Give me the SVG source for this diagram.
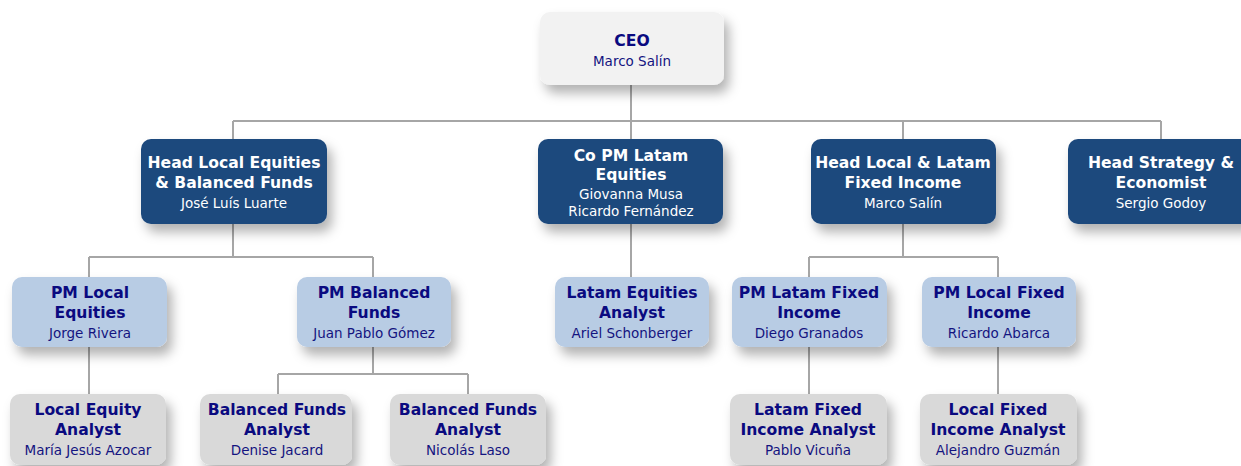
<svg xmlns="http://www.w3.org/2000/svg" width="1241" height="466" viewBox="0 0 1241 466">
<style>
.t{font-family:"DejaVu Sans",Verdana,sans-serif;font-weight:bold;font-size:15.6px;text-anchor:middle}
.n{font-family:"DejaVu Sans",Verdana,sans-serif;font-size:13.5px;text-anchor:middle}
.dk rect{fill:#1f497d}
.dk text{fill:#ffffff}
.md rect{fill:#b8cce4}
.lt rect{fill:#d9d9d9}
.ce rect{fill:#f2f2f2}
.md .t,.lt .t,.ce .t{fill:#0a0a80}
.md .n,.lt .n,.ce .n{fill:#141480}
.c{fill:none;stroke:#a6a6a6;stroke-width:2}
</style>
<defs>
<filter id="sh" x="-20%" y="-20%" width="150%" height="170%">
<feDropShadow dx="5" dy="8" stdDeviation="6" flood-color="#000" flood-opacity="0.3"/>
</filter>
</defs>
<rect width="1241" height="466" fill="#ffffff"/>
<g id="connectors" class="c">
<path d="M631 85V121M233 121H1161M233 121V139M631 121V139M903 121V139M1161 121V139"/>
<path d="M233 224V257M89 257H373M89 257V277M373 257V277"/>
<path d="M631 224V277"/>
<path d="M903 224V257M809 257H998M809 257V277M998 257V277"/>
<path d="M89 347V394"/>
<path d="M373 347V374M278 374H468M278 374V394M468 374V394"/>
<path d="M809 347V394M998 347V394"/>
</g>
<g id="ceo" class="ce"><rect x="540" y="12" width="184" height="73" rx="10" filter="url(#sh)"/>
<text class="t" x="632" y="46">CEO</text><text class="n" x="632" y="66">Marco Salín</text></g>
<g id="head-equities" class="dk"><rect x="141" y="139" width="186" height="85" rx="10" filter="url(#sh)"/>
<text class="t" x="234" y="168">Head Local Equities</text><text class="t" x="234" y="188">&amp; Balanced Funds</text><text class="n" x="234" y="208">José Luís Luarte</text></g>
<g id="copm-latam" class="dk"><rect x="538" y="139" width="185" height="85" rx="10" filter="url(#sh)"/>
<text class="t" x="631" y="161">Co PM Latam</text><text class="t" x="631" y="180">Equities</text><text class="n" x="631" y="199">Giovanna Musa</text><text class="n" x="631" y="216">Ricardo Fernández</text></g>
<g id="head-fixed" class="dk"><rect x="811" y="139" width="185" height="85" rx="10" filter="url(#sh)"/>
<text class="t" x="903" y="168">Head Local &amp; Latam</text><text class="t" x="903" y="188">Fixed Income</text><text class="n" x="903" y="208">Marco Salín</text></g>
<g id="head-strategy" class="dk"><rect x="1068" y="139" width="186" height="85" rx="10" filter="url(#sh)"/>
<text class="t" x="1161" y="168">Head Strategy &amp;</text><text class="t" x="1161" y="188">Economist</text><text class="n" x="1161" y="208">Sergio Godoy</text></g>
<g id="pm-local-equities" class="md"><rect x="12" y="277" width="155" height="70" rx="10" filter="url(#sh)"/>
<text class="t" x="90" y="298">PM Local</text><text class="t" x="90" y="318">Equities</text><text class="n" x="90" y="338">Jorge Rivera</text></g>
<g id="pm-balanced" class="md"><rect x="297" y="277" width="154" height="70" rx="10" filter="url(#sh)"/>
<text class="t" x="374" y="298">PM Balanced</text><text class="t" x="374" y="318">Funds</text><text class="n" x="374" y="338">Juan Pablo Gómez</text></g>
<g id="latam-equities-analyst" class="md"><rect x="555" y="277" width="154" height="70" rx="10" filter="url(#sh)"/>
<text class="t" x="632" y="298">Latam Equities</text><text class="t" x="632" y="318">Analyst</text><text class="n" x="632" y="338">Ariel Schonberger</text></g>
<g id="pm-latam-fixed" class="md"><rect x="732" y="277" width="155" height="70" rx="10" filter="url(#sh)"/>
<text class="t" x="809" y="298">PM Latam Fixed</text><text class="t" x="809" y="318">Income</text><text class="n" x="809" y="338">Diego Granados</text></g>
<g id="pm-local-fixed" class="md"><rect x="922" y="277" width="154" height="70" rx="10" filter="url(#sh)"/>
<text class="t" x="999" y="298">PM Local Fixed</text><text class="t" x="999" y="318">Income</text><text class="n" x="999" y="338">Ricardo Abarca</text></g>
<g id="local-equity-analyst" class="lt"><rect x="10" y="394" width="156" height="71" rx="10" filter="url(#sh)"/>
<text class="t" x="88" y="415">Local Equity</text><text class="t" x="88" y="435">Analyst</text><text class="n" x="88" y="455">María Jesús Azocar</text></g>
<g id="balanced-analyst-1" class="lt"><rect x="200" y="394" width="152" height="71" rx="10" filter="url(#sh)"/>
<text class="t" x="277" y="415">Balanced Funds</text><text class="t" x="277" y="435">Analyst</text><text class="n" x="277" y="455">Denise Jacard</text></g>
<g id="balanced-analyst-2" class="lt"><rect x="390" y="394" width="156" height="71" rx="10" filter="url(#sh)"/>
<text class="t" x="468" y="415">Balanced Funds</text><text class="t" x="468" y="435">Analyst</text><text class="n" x="468" y="455">Nicolás Laso</text></g>
<g id="latam-fixed-analyst" class="lt"><rect x="730" y="394" width="157" height="71" rx="10" filter="url(#sh)"/>
<text class="t" x="808" y="415">Latam Fixed</text><text class="t" x="808" y="435">Income Analyst</text><text class="n" x="808" y="455">Pablo Vicuña</text></g>
<g id="local-fixed-analyst" class="lt"><rect x="920" y="394" width="157" height="71" rx="10" filter="url(#sh)"/>
<text class="t" x="998" y="415">Local Fixed</text><text class="t" x="998" y="435">Income Analyst</text><text class="n" x="998" y="455">Alejandro Guzmán</text></g>
</svg>
